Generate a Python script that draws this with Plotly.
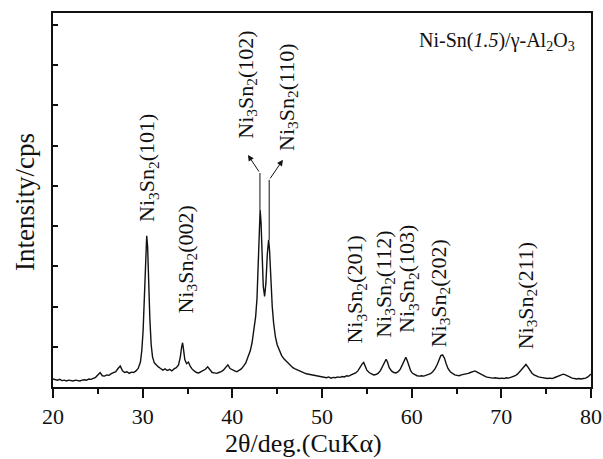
import plotly.graph_objects as go

two_theta = [
    20.0, 20.25, 20.5, 20.75, 21.0, 21.25, 21.5, 21.75, 22.0, 22.25, 22.5, 22.75, 23.0, 23.25, 23.5, 23.75,
    24.0, 24.25, 24.5, 24.75, 25.0, 25.25, 25.5, 25.75, 26.0, 26.25, 26.5, 26.75, 27.0, 27.25, 27.5, 27.75,
    28.0, 28.25, 28.5, 28.75, 29.0, 29.25, 29.5, 29.75, 29.9, 30.05, 30.2, 30.35, 30.45, 30.55, 30.65, 30.8,
    30.95, 31.1, 31.3, 31.5, 31.75, 32.0, 32.25, 32.5, 32.75, 33.0, 33.25, 33.5, 33.75, 34.0, 34.2, 34.35,
    34.45, 34.55, 34.7, 34.9, 35.1, 35.3, 35.5, 35.75, 36.0, 36.25, 36.5, 36.75, 37.0, 37.25, 37.5, 37.75,
    38.0, 38.25, 38.5, 38.75, 39.0, 39.25, 39.5, 39.75, 40.0, 40.25, 40.5, 40.75, 41.0, 41.25, 41.5, 41.75,
    42.0, 42.2, 42.4, 42.6, 42.75, 42.9, 43.0, 43.1, 43.2, 43.3, 43.45, 43.6, 43.75, 43.9, 44.05, 44.15,
    44.3, 44.45, 44.6, 44.8, 45.0, 45.25, 45.5, 45.75, 46.0, 46.25, 46.5, 46.75, 47.0, 47.25, 47.5, 47.75,
    48.0, 48.25, 48.5, 48.75, 49.0, 49.25, 49.5, 49.75, 50.0, 50.25, 50.5, 50.75, 51.0, 51.25, 51.5, 51.75,
    52.0, 52.25, 52.5, 52.75, 53.0, 53.25, 53.5, 53.75, 54.0, 54.25, 54.5, 54.65, 54.8, 55.0, 55.25, 55.5,
    55.75, 56.0, 56.25, 56.5, 56.75, 57.0, 57.15, 57.3, 57.5, 57.75, 58.0, 58.25, 58.5, 58.75, 59.0, 59.2,
    59.35, 59.5, 59.7, 59.9, 60.1, 60.35, 60.6, 60.85, 61.1, 61.35, 61.6, 61.85, 62.1, 62.35, 62.6, 62.85,
    63.05, 63.25, 63.45, 63.65, 63.85, 64.05, 64.3, 64.55, 64.8, 65.05, 65.3, 65.55, 65.8, 66.05, 66.3, 66.55,
    66.8, 67.05, 67.3, 67.55, 67.8, 68.05, 68.3, 68.55, 68.8, 69.05, 69.3, 69.55, 69.8, 70.05, 70.3, 70.55,
    70.8, 71.05, 71.3, 71.55, 71.8, 72.05, 72.3, 72.55, 72.75, 72.95, 73.15, 73.4, 73.65, 73.9, 74.15, 74.4,
    74.65, 74.9, 75.15, 75.4, 75.65, 75.9, 76.15, 76.4, 76.65, 76.9, 77.15, 77.4, 77.65, 77.9, 78.15, 78.4,
    78.65, 78.9, 79.15, 79.4, 79.65, 79.9, 80.0,
]

intensity = [
    0.20, 0.18, 0.17, 0.19, 0.16, 0.17, 0.15, 0.17, 0.16, 0.15, 0.17, 0.16, 0.15, 0.17, 0.18, 0.17,
    0.20, 0.19, 0.22, 0.24, 0.30, 0.36, 0.28, 0.27, 0.30, 0.29, 0.33, 0.36, 0.38, 0.46, 0.52, 0.40,
    0.36, 0.38, 0.34, 0.37, 0.36, 0.40, 0.46, 0.62, 0.90, 1.40, 2.20, 3.20, 3.76, 3.50, 2.70, 1.70,
    1.05, 0.75, 0.60, 0.55, 0.50, 0.46, 0.42, 0.45, 0.41, 0.44, 0.40, 0.45, 0.48, 0.55, 0.75, 1.00,
    1.10, 0.95, 0.68, 0.58, 0.62, 0.52, 0.45, 0.40, 0.36, 0.35, 0.38, 0.42, 0.44, 0.50, 0.42, 0.36,
    0.35, 0.34, 0.36, 0.38, 0.42, 0.50, 0.55, 0.46, 0.42, 0.40, 0.38, 0.42, 0.45, 0.52, 0.60, 0.75,
    0.90, 1.10, 1.40, 1.75, 2.20, 3.00, 3.80, 4.40, 4.10, 3.20, 2.50, 2.25, 2.60, 3.30, 3.66, 3.40,
    2.60, 2.00, 1.60, 1.25, 1.05, 0.90, 0.78, 0.70, 0.64, 0.58, 0.52, 0.48, 0.45, 0.42, 0.40, 0.37,
    0.35, 0.33, 0.32, 0.30, 0.29, 0.28, 0.27, 0.26, 0.26, 0.24, 0.23, 0.25, 0.22, 0.24, 0.23, 0.25,
    0.24, 0.26, 0.25, 0.28, 0.27, 0.30, 0.32, 0.35, 0.40, 0.50, 0.58, 0.61, 0.52, 0.42, 0.36, 0.32,
    0.30, 0.31, 0.34, 0.40, 0.50, 0.62, 0.69, 0.62, 0.48, 0.40, 0.36, 0.35, 0.38, 0.45, 0.58, 0.70,
    0.74, 0.66, 0.50, 0.40, 0.34, 0.30, 0.28, 0.27, 0.28, 0.27, 0.29, 0.30, 0.33, 0.38, 0.45, 0.56,
    0.68, 0.78, 0.80, 0.72, 0.58, 0.46, 0.38, 0.33, 0.30, 0.29, 0.28, 0.30, 0.31, 0.33, 0.34, 0.36,
    0.38, 0.40, 0.37, 0.34, 0.30, 0.27, 0.25, 0.24, 0.23, 0.22, 0.23, 0.22, 0.21, 0.22, 0.21, 0.23,
    0.22, 0.24, 0.26, 0.28, 0.32, 0.38, 0.45, 0.52, 0.56, 0.50, 0.42, 0.35, 0.30, 0.27, 0.25, 0.24,
    0.23, 0.22, 0.21, 0.22, 0.21, 0.23, 0.25, 0.27, 0.30, 0.32, 0.30, 0.27, 0.24, 0.22, 0.21, 0.20,
    0.21, 0.20, 0.21, 0.22, 0.25, 0.30, 0.32,
]

peak_labels = ["(101)", "(002)", "(102)", "(110)", "(201)", "(112)", "(103)", "(202)", "(211)"]
label_x = [30.6, 34.9, 41.6, 46.2, 53.85, 57.0, 59.6, 63.1, 72.8]
label_y = [5.45, 3.16, 7.51, 7.21, 2.41, 2.56, 2.69, 2.34, 2.29]

x_ticks = [20, 30, 40, 50, 60, 70, 80]
y_ticks = [1, 2, 3, 4, 5, 6, 7, 8, 9]

FONT = "Liberation Serif, Times New Roman, serif"
INK = "#111111"

fig = go.Figure()
fig.add_trace(go.Scatter(x=two_theta, y=intensity, mode="lines",
                         line=dict(color=INK, width=1.4), showlegend=False, hoverinfo="skip"))

for txt, lx, ly in zip(peak_labels, label_x, label_y):
    fig.add_annotation(x=lx, y=ly, xref="x", yref="y",
                       text="Ni<sub>3</sub>Sn<sub>2</sub>" + txt, textangle=-90,
                       showarrow=False, xanchor="center", yanchor="middle",
                       font=dict(family=FONT, size=22, color=INK))

# guide lines from the two main peaks to the arrowheads
fig.add_shape(type="line", xref="x", yref="y", x0=43.08, y0=4.40, x1=43.08, y1=5.32,
              line=dict(color=INK, width=1))
fig.add_shape(type="line", xref="x", yref="y", x0=44.11, y0=3.66, x1=44.11, y1=5.15,
              line=dict(color=INK, width=1))
fig.add_annotation(x=41.74, y=5.77, ax=43.08, ay=5.32, xref="x", yref="y", axref="x", ayref="y",
                   text="", showarrow=True, arrowhead=2, arrowsize=1.2, arrowwidth=1, arrowcolor=INK)
fig.add_annotation(x=45.64, y=5.65, ax=44.11, ay=5.15, xref="x", yref="y", axref="x", ayref="y",
                   text="", showarrow=True, arrowhead=2, arrowsize=1.2, arrowwidth=1, arrowcolor=INK)

fig.add_annotation(x=0.825, y=0.925, xref="paper", yref="paper",
                   text="Ni-Sn(<i>1.5</i>)/γ-Al<sub>2</sub>O<sub>3</sub>",
                   showarrow=False, xanchor="center", yanchor="middle",
                   font=dict(family=FONT, size=20, color=INK))

# axis titles
fig.add_annotation(x=0.4665, y=-0.150, xref="paper", yref="paper", text="2θ/deg.(CuKα)",
                   showarrow=False, xanchor="center", yanchor="middle",
                   font=dict(family=FONT, size=26, color=INK))
fig.add_annotation(x=-0.052, y=0.495, xref="paper", yref="paper", text="Intensity/cps",
                   textangle=-90, showarrow=False, xanchor="center", yanchor="middle",
                   font=dict(family=FONT, size=27, color=INK))

fig.update_layout(
    width=603, height=459,
    margin=dict(l=53, r=12, t=13, b=72, autoexpand=False),
    paper_bgcolor="white", plot_bgcolor="white",
    font=dict(family=FONT, color=INK),
    xaxis=dict(range=[20, 80], tickvals=x_ticks, ticks="outside", ticklen=9, tickwidth=1.5,
               tickcolor=INK, showline=True, linecolor=INK, linewidth=1.8, mirror=True,
               showgrid=False, zeroline=False, tickfont=dict(size=22, family=FONT),
               automargin=False,
               minor=dict(dtick=5, tick0=20, ticks="outside", ticklen=5, tickwidth=1.5, tickcolor=INK)),
    yaxis=dict(range=[0, 9.3], tickvals=y_ticks, ticks="inside", ticklen=5, tickwidth=1.5,
               tickcolor=INK, showticklabels=False, showline=True, linecolor=INK, linewidth=1.8,
               mirror=True, showgrid=False, zeroline=False, automargin=False),
)

fig.write_html("out.html", config={"displayModeBar": False},
               post_script="document.body.style.margin='0px';document.body.style.overflow='hidden';")
